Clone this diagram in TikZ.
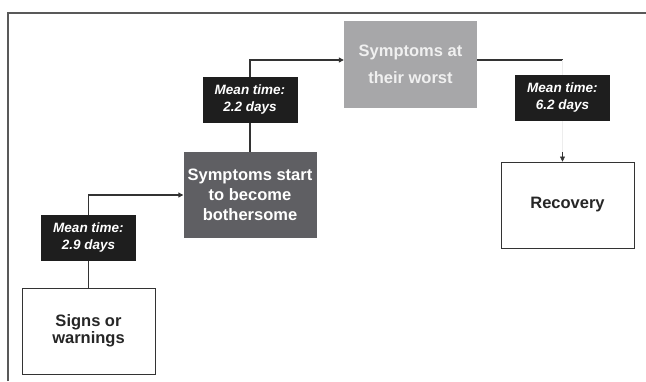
\documentclass[tikz,border=0pt]{standalone}
\usepackage{fontspec}
\setmainfont{Liberation Sans}
\usetikzlibrary{arrows.meta, positioning}
\definecolor{lineGray}{gray}{0.2}
\definecolor{frameGray}{gray}{0.35}
\definecolor{darkBox}{HTML}{5F5F63}
\definecolor{lightBox}{HTML}{A7A7A9}
\definecolor{tagBlack}{HTML}{1E1E1E}
\definecolor{faintGray}{gray}{0.93}

\begin{document}
\begin{tikzpicture}[x=1pt, y=-1pt, >={Triangle[length=5pt, width=5pt]},
    stage/.style={rectangle, inner sep=0pt, minimum width=133pt, minimum height=86pt,
        align=center, font=\fontsize{16.5}{17}\selectfont\bfseries},
    plainstage/.style={stage, draw=lineGray, line width=0.9pt, fill=white, text=black!85},
    meantag/.style={rectangle, inner sep=0pt, minimum width=95pt, minimum height=46pt,
        fill=tagBlack, text=white, align=center, font=\fontsize{13.5}{17}\selectfont\bfseries\itshape},
    link/.style={lineGray, line width=1.1pt}]
    % Frame
    \useasboundingbox (0,0) rectangle (646,381);
    \draw[frameGray, line width=1.4pt] (8,381) -- (8,13) -- (646,13);

    % Stages
    \node[plainstage] (signs) at (88.5,331) {Signs or\\warnings};
    \node[stage, fill=darkBox, text=white, font=\fontsize{16.5}{20}\selectfont\bfseries]
        (bother) at (250,195) {Symptoms start\\to become\\bothersome};
    \node[stage, fill=lightBox, text=white!94!black, minimum height=87pt,
        font=\fontsize{16.5}{27}\selectfont\bfseries]
        (worst) at (410.5,64.5) {Symptoms at\\their worst};
    \node[plainstage] (recovery) at (567.5,205) {Recovery};

    % Mean times
    \node[meantag] (tagA) at (88.5,238) {Mean time:\\2.9 days};
    \node[meantag] (tagB) at (250,100) {Mean time:\\2.2 days};
    \node[meantag] (tagC) at (562.5,98) {Mean time:\\6.2 days};
    \coordinate (turn) at (tagC.north |- 0,60);

    % Connectors
    \draw[link] (signs.north) -- (tagA.south);
    \draw[link, ->] (tagA.north) |- (bother.west);
    \draw[link] (bother.north) -- (tagB.south);
    \draw[link, ->] (tagB.north) |- ([yshift=4.5pt]worst.west);
    \draw[link] ([yshift=4.5pt]worst.east) -- (turn);
    \draw[faintGray, line width=0.8pt] (turn) -- (tagC.north);
    \draw[faintGray, line width=0.8pt] (tagC.south) -- (tagC.south |- 0,157);
    \draw[lineGray, ->] (tagC.south |- 0,152) -- (tagC.south |- recovery.north);
\end{tikzpicture}
\end{document}
